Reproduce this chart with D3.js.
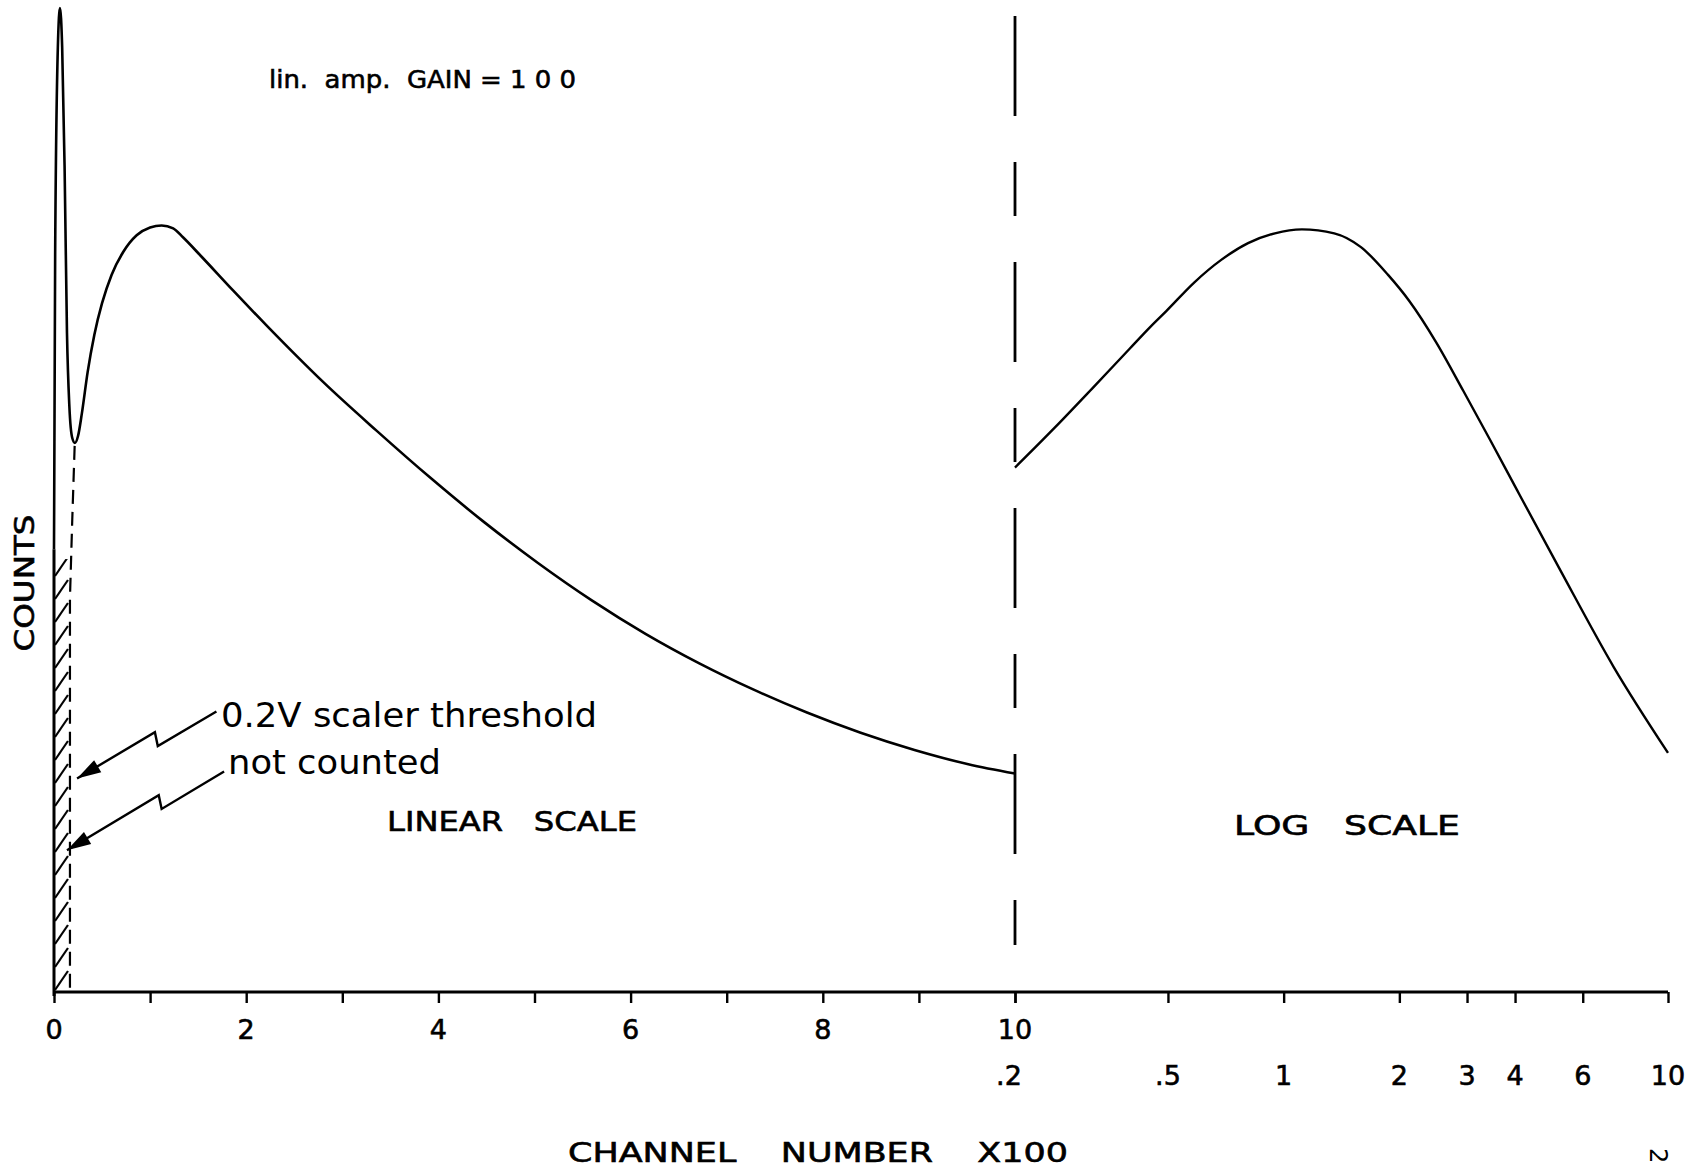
<!DOCTYPE html>
<html>
<head>
  <meta charset="utf-8">
  <title>counts vs channel number</title>
  <style>
    body { margin: 0; background: #fff; }
    svg text { font-family: "DejaVu Sans", "Liberation Sans", sans-serif; fill: #000; white-space: pre; }
  </style>
</head>
<body>
  <div id="chart"></div>
  <script src="https://d3js.org/d3.v7.min.js"></script>
  <script>
  // linear part : channel number x100 (0..10), counts in arbitrary units (0..100)
  var linX = [0, 0.012, 0.04, 0.062, 0.085, 0.11, 0.135, 0.16, 0.19, 0.218, 0.25, 0.29, 0.35, 0.42, 0.50, 0.60, 0.72, 0.86, 1.0, 1.12, 1.24, 1.342, 1.519, 1.863, 2.216, 2.529, 2.80, 3.356, 3.917, 4.476, 5.036, 5.596, 6.155, 6.715, 7.275, 7.835, 8.394, 8.954, 9.514, 10.0];
  var linY = [45, 75, 96, 100, 96, 84, 67, 59.5, 56.3, 55.8, 56.5, 58.8, 63.0, 66.8, 70.0, 72.9, 75.2, 76.9, 77.7, 77.9, 77.6, 76.7, 74.9, 71.3, 67.7, 64.6, 62.0, 57.05, 52.25, 47.75, 43.6, 39.8, 36.4, 33.4, 30.75, 28.4, 26.35, 24.6, 23.15, 22.2];

  // log part : .2 .. 10
  var logX = [0.2, 0.253, 0.317, 0.398, 0.45, 0.495, 0.585, 0.688, 0.808, 0.949, 1.116, 1.354, 1.589, 1.867, 2.125, 2.496, 2.933, 3.446, 4.049, 5.24, 7.23, 10];
  var logY = [53.3, 57.3, 61.3, 65.4, 67.6, 69.2, 72.1, 74.4, 76.1, 77.1, 77.5, 77.1, 75.7, 72.9, 70.2, 66.0, 61.1, 56.1, 51.0, 42.9, 33.0, 24.3];

  var linTicks = [0, 1, 2, 3, 4, 5, 6, 7, 8, 9, 10];
  var linLabelVals = [0, 2, 4, 6, 8, 10];
  var logTicks = [0.2, 0.5, 1, 2, 3, 4, 6, 10];
  var logLabels = [".2", ".5", "1", "2", "3", "4", "6", "10"];

  // threshold region (not counted), and the two lightning arrows (linear units / counts)
  var threshX = 0.166;
  var threshTop = 44;
  var threshLine = [[0.215, 55.5], [0.19, 48], [0.166, 40], [0.166, 0]];
  var arrow1 = [[1.69, 28.5], [1.08, 25.0], [1.05, 26.4], [0.24, 21.7]];
  var arrow2 = [[1.77, 22.4], [1.12, 18.6], [1.09, 20.0], [0.135, 14.4]];

  var W = 1687, H = 1172;
  var svg = d3.select("#chart").append("svg")
    .attr("width", W)
    .attr("height", H);

  var xLin = d3.scaleLinear().domain([0, 10]).range([54, 1015]);
  var xLog = d3.scaleLog().domain([0.2, 10]).range([1015, 1668]);
  var y = d3.scaleLinear().domain([0, 100]).range([992, 8]);
  var y0 = y(0);

  // hatching pattern for the region below threshold
  var hw = xLin(threshX) - xLin(0);
  var pat = svg.append("defs").append("pattern")
    .attr("id", "hatch")
    .attr("patternUnits", "userSpaceOnUse")
    .attr("width", hw)
    .attr("height", 23)
    .attr("patternTransform", "translate(" + xLin(0) + "," + y0 + ")");
  pat.append("line")
    .attr("x1", 1).attr("y1", 21)
    .attr("x2", hw - 2).attr("y2", 2)
    .attr("stroke", "#000").attr("stroke-width", 2.2);

  svg.append("rect")
    .attr("x", xLin(0))
    .attr("y", y(threshTop))
    .attr("width", hw)
    .attr("height", y0 - y(threshTop))
    .attr("fill", "url(#hatch)");

  // x axis (one line under both parts)
  svg.append("line")
    .attr("x1", xLin(0)).attr("y1", y0)
    .attr("x2", xLog(10)).attr("y2", y0)
    .attr("stroke", "#000").attr("stroke-width", 3);

  var tickLen = 11;
  svg.append("g")
    .attr("transform", "translate(0," + y0 + ")")
    .call(d3.axisBottom(xLin).tickValues(linTicks).tickFormat("").tickSize(tickLen).tickSizeOuter(0))
    .call(function(g) { g.select(".domain").remove(); })
    .selectAll("line").attr("stroke-width", 2.4);
  svg.append("g")
    .attr("transform", "translate(0," + y0 + ")")
    .call(d3.axisBottom(xLog).tickValues(logTicks).tickFormat("").tickSize(tickLen).tickSizeOuter(0))
    .call(function(g) { g.select(".domain").remove(); })
    .selectAll("line").attr("stroke-width", 2.4);

  // tick labels
  svg.append("g").selectAll("text")
    .data(linLabelVals)
    .enter().append("text")
    .attr("x", function(d) { return xLin(d); })
    .attr("y", 1039)
    .attr("text-anchor", "middle")
    .attr("font-size", "27px")
    .attr("stroke", "#000").attr("stroke-width", 0.6)
    .text(function(d) { return String(d); });

  svg.append("g").selectAll("text")
    .data(logTicks)
    .enter().append("text")
    .attr("x", function(d, i) { return xLog(d) - (i == 0 ? 6 : 0); })
    .attr("y", 1085)
    .attr("text-anchor", "middle")
    .attr("font-size", "27px")
    .attr("stroke", "#000").attr("stroke-width", 0.6)
    .text(function(d, i) { return logLabels[i]; });

  // y axis (no ticks)
  svg.append("line")
    .attr("x1", xLin(0)).attr("y1", y0 + 4)
    .attr("x2", xLin(0)).attr("y2", y(linY[0]))
    .attr("stroke", "#000").attr("stroke-width", 3);

  // dashed divider between linear and log scales
  svg.append("line")
    .attr("x1", xLin(10)).attr("y1", 16)
    .attr("x2", xLin(10)).attr("y2", 945)
    .attr("stroke", "#000").attr("stroke-width", 2.8)
    .attr("stroke-dasharray", "100,46,54,46");

  // curves
  var linLine = d3.line()
    .x(function(d, i) { return xLin(linX[i]); })
    .y(function(d, i) { return y(linY[i]); })
    .curve(d3.curveMonotoneX);
  svg.append("path")
    .attr("d", linLine(linX))
    .attr("fill", "none").attr("stroke", "#000").attr("stroke-width", 2.6);

  var logLine = d3.line()
    .x(function(d, i) { return xLog(logX[i]); })
    .y(function(d, i) { return y(logY[i]); })
    .curve(d3.curveMonotoneX);
  svg.append("path")
    .attr("d", logLine(logX))
    .attr("fill", "none").attr("stroke", "#000").attr("stroke-width", 2.4);

  // threshold edge
  var ptLine = d3.line()
    .x(function(d) { return xLin(d[0]); })
    .y(function(d) { return y(d[1]); });
  svg.append("path")
    .attr("d", ptLine(threshLine))
    .attr("fill", "none").attr("stroke", "#000").attr("stroke-width", 2.2)
    .attr("stroke-dasharray", "14,8");

  // lightning arrows
  function drawArrow(pts) {
    svg.append("path")
      .attr("d", ptLine(pts))
      .attr("fill", "none").attr("stroke", "#000").attr("stroke-width", 2.4);
    var n = pts.length;
    var tx = xLin(pts[n - 1][0]), ty = y(pts[n - 1][1]);
    var bx = xLin(pts[n - 2][0]), by = y(pts[n - 2][1]);
    var len = Math.hypot(tx - bx, ty - by);
    var ux = (tx - bx) / len, uy = (ty - by) / len;
    var hl = 24, hwid = 7;
    var cx = tx - ux * hl, cy = ty - uy * hl;
    svg.append("polygon")
      .attr("points", [
        [tx, ty],
        [cx - uy * hwid, cy + ux * hwid],
        [cx + uy * hwid, cy - ux * hwid]
      ].map(function(p) { return p.join(","); }).join(" "))
      .attr("fill", "#000");
  }
  drawArrow(arrow1);
  drawArrow(arrow2);

  // texts
  function label(txt, x, yy, size, len, bold) {
    var t = svg.append("text")
      .attr("x", x).attr("y", yy)
      .attr("xml:space", "preserve")
      .attr("font-size", size + "px")
      .attr("textLength", len)
      .attr("lengthAdjust", "spacingAndGlyphs")
      .text(txt);
    if (bold) t.attr("stroke", "#000").attr("stroke-width", 0.6);
    return t;
  }
  label("lin.  amp.  GAIN = 1 0 0", 269, 88, 25, 307, true);
  label("0.2V scaler threshold", 221, 727, 34, 376, false);
  label("not counted", 228, 774, 34, 213, false);
  label("LINEAR   SCALE", 387, 831, 27, 250, true);
  label("LOG   SCALE", 1234, 835, 27, 226, true);
  label("CHANNEL    NUMBER    X100", 568, 1162, 27, 500, true);

  svg.append("text")
    .attr("transform", "translate(34,583) rotate(-90)")
    .attr("text-anchor", "middle")
    .attr("font-size", "26px")
    .attr("textLength", 137)
    .attr("lengthAdjust", "spacingAndGlyphs")
    .attr("stroke", "#000").attr("stroke-width", 0.6)
    .text("COUNTS");

  svg.append("text")
    .attr("transform", "translate(1650,1148) rotate(90)")
    .attr("font-size", "24px")
    .text("2");
  </script>
</body>
</html>
